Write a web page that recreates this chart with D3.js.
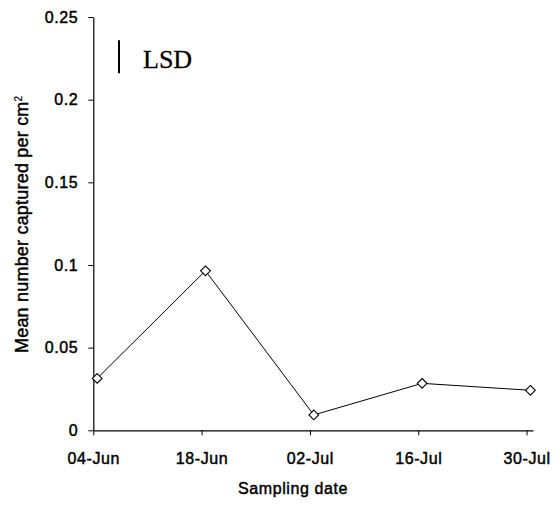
<!DOCTYPE html>
<html>
<head>
<meta charset="utf-8">
<script src="https://cdn.jsdelivr.net/npm/d3@7"></script>
<style>
  html, body { margin: 0; padding: 0; background: #fff; }
  svg { display: block; }
  text { font-family: "Liberation Sans", Arial, Helvetica, sans-serif; fill: #000; }
</style>
</head>
<body>
<svg id="chart" width="559" height="505"></svg>
<script>
// Sampling dates and mean catch per cm²
const sampleDates = ["2000-06-04T12:00", "2000-06-18T12:00", "2000-07-02T12:00", "2000-07-16T12:00", "2000-07-30T12:00"];
const meanCaptured = [0.0314, 0.0965, 0.0093, 0.0284, 0.0242];

// Axis tick values and labels
const xTickDates = ["2000-06-04", "2000-06-18", "2000-07-02", "2000-07-16", "2000-07-30"];
const xTickLabels = ["04-Jun", "18-Jun", "02-Jul", "16-Jul", "30-Jul"];
const yTickValues = [0, 0.05, 0.1, 0.15, 0.2, 0.25];
const yTickLabels = ["0", "0.05", "0.1", "0.15", "0.2", "0.25"];

// Least significant difference bar (top and bottom in data units)
const lsdTop = 0.236;
const lsdValue = 0.02;

const parse = d3.utcParse("%Y-%m-%dT%H:%M");
const parseDay = d3.utcParse("%Y-%m-%d");

const svg = d3.select("#chart");

const x = d3.scaleUtc()
  .domain([parseDay("2000-06-04"), parse("2000-07-30T20:00")])
  .range([93.3, 533]);

const y = d3.scaleLinear()
  .domain([0, 0.25])
  .range([430.3, 17]);

// Slightly heavy label text
function labelStyle(sel, size) {
  sel.style("font-size", size + "px")
    .style("letter-spacing", "0.6px")
    .style("font-family", "'Liberation Sans', Arial, sans-serif")
    .style("stroke", "#000")
    .style("stroke-width", "0.45px");
}

// Y axis
const yAxis = d3.axisLeft(y)
  .tickValues(yTickValues)
  .tickFormat((d, i) => yTickLabels[i])
  .tickSize(5)
  .tickPadding(10)
  .tickSizeOuter(0);

const gy = svg.append("g")
  .attr("transform", `translate(${x.range()[0]},0)`)
  .call(yAxis);
gy.select(".domain").attr("stroke", "#000").attr("stroke-width", 1.2);
gy.selectAll(".tick line").attr("stroke", "#000");
gy.selectAll(".tick text").call(labelStyle, 16);

// X axis
const xAxis = d3.axisBottom(x)
  .tickValues(xTickDates.map(parseDay))
  .tickFormat((d, i) => xTickLabels[i])
  .tickSize(5)
  .tickPadding(17)
  .tickSizeOuter(0);

const gx = svg.append("g")
  .attr("transform", `translate(0,${y(0)})`)
  .call(xAxis);
gx.select(".domain").attr("stroke", "#000").attr("stroke-width", 1.2);
gx.selectAll(".tick line").attr("stroke", "#000");
gx.selectAll(".tick text").call(labelStyle, 16);

// Series line
const points = sampleDates.map((d, i) => ({ date: parse(d), value: meanCaptured[i] }));

const line = d3.line()
  .x(d => x(d.date))
  .y(d => y(d.value));

svg.append("path")
  .datum(points)
  .attr("d", line)
  .attr("fill", "none")
  .attr("stroke", "#000")
  .attr("stroke-width", 1);

// Diamond markers
const diamond = d3.symbol().type(d3.symbolDiamond2).size(60);
svg.append("g")
  .selectAll("path")
  .data(points)
  .join("path")
  .attr("d", diamond)
  .attr("transform", d => `translate(${x(d.date)},${y(d.value)})`)
  .attr("fill", "#fff")
  .attr("stroke", "#000")
  .attr("stroke-width", 1.1);

// LSD bar
svg.append("line")
  .attr("x1", 119).attr("x2", 119)
  .attr("y1", y(lsdTop))
  .attr("y2", y(lsdTop - lsdValue))
  .attr("stroke", "#000")
  .attr("stroke-width", 2);

svg.append("text")
  .attr("x", 143)
  .attr("y", 68)
  .style("font-family", "'Liberation Serif', 'Times New Roman', serif")
  .style("font-size", "26px")
  .style("stroke", "#000")
  .style("stroke-width", "0.3px")
  .text("LSD");

// Axis titles
svg.append("text")
  .attr("x", 293)
  .attr("y", 494)
  .attr("text-anchor", "middle")
  .call(labelStyle, 16)
  .text("Sampling date");

const yTitle = svg.append("text")
  .attr("transform", "translate(28,353) rotate(-90)")
  .attr("text-anchor", "start")
  .call(labelStyle, 18)
  .style("letter-spacing", "0.2px");
yTitle.append("tspan").text("Mean number captured per cm");
yTitle.append("tspan")
  .attr("dy", "-0.6em")
  .style("font-size", "10px")
  .style("stroke-width", "0.2px")
  .text("2");
</script>
</body>
</html>
